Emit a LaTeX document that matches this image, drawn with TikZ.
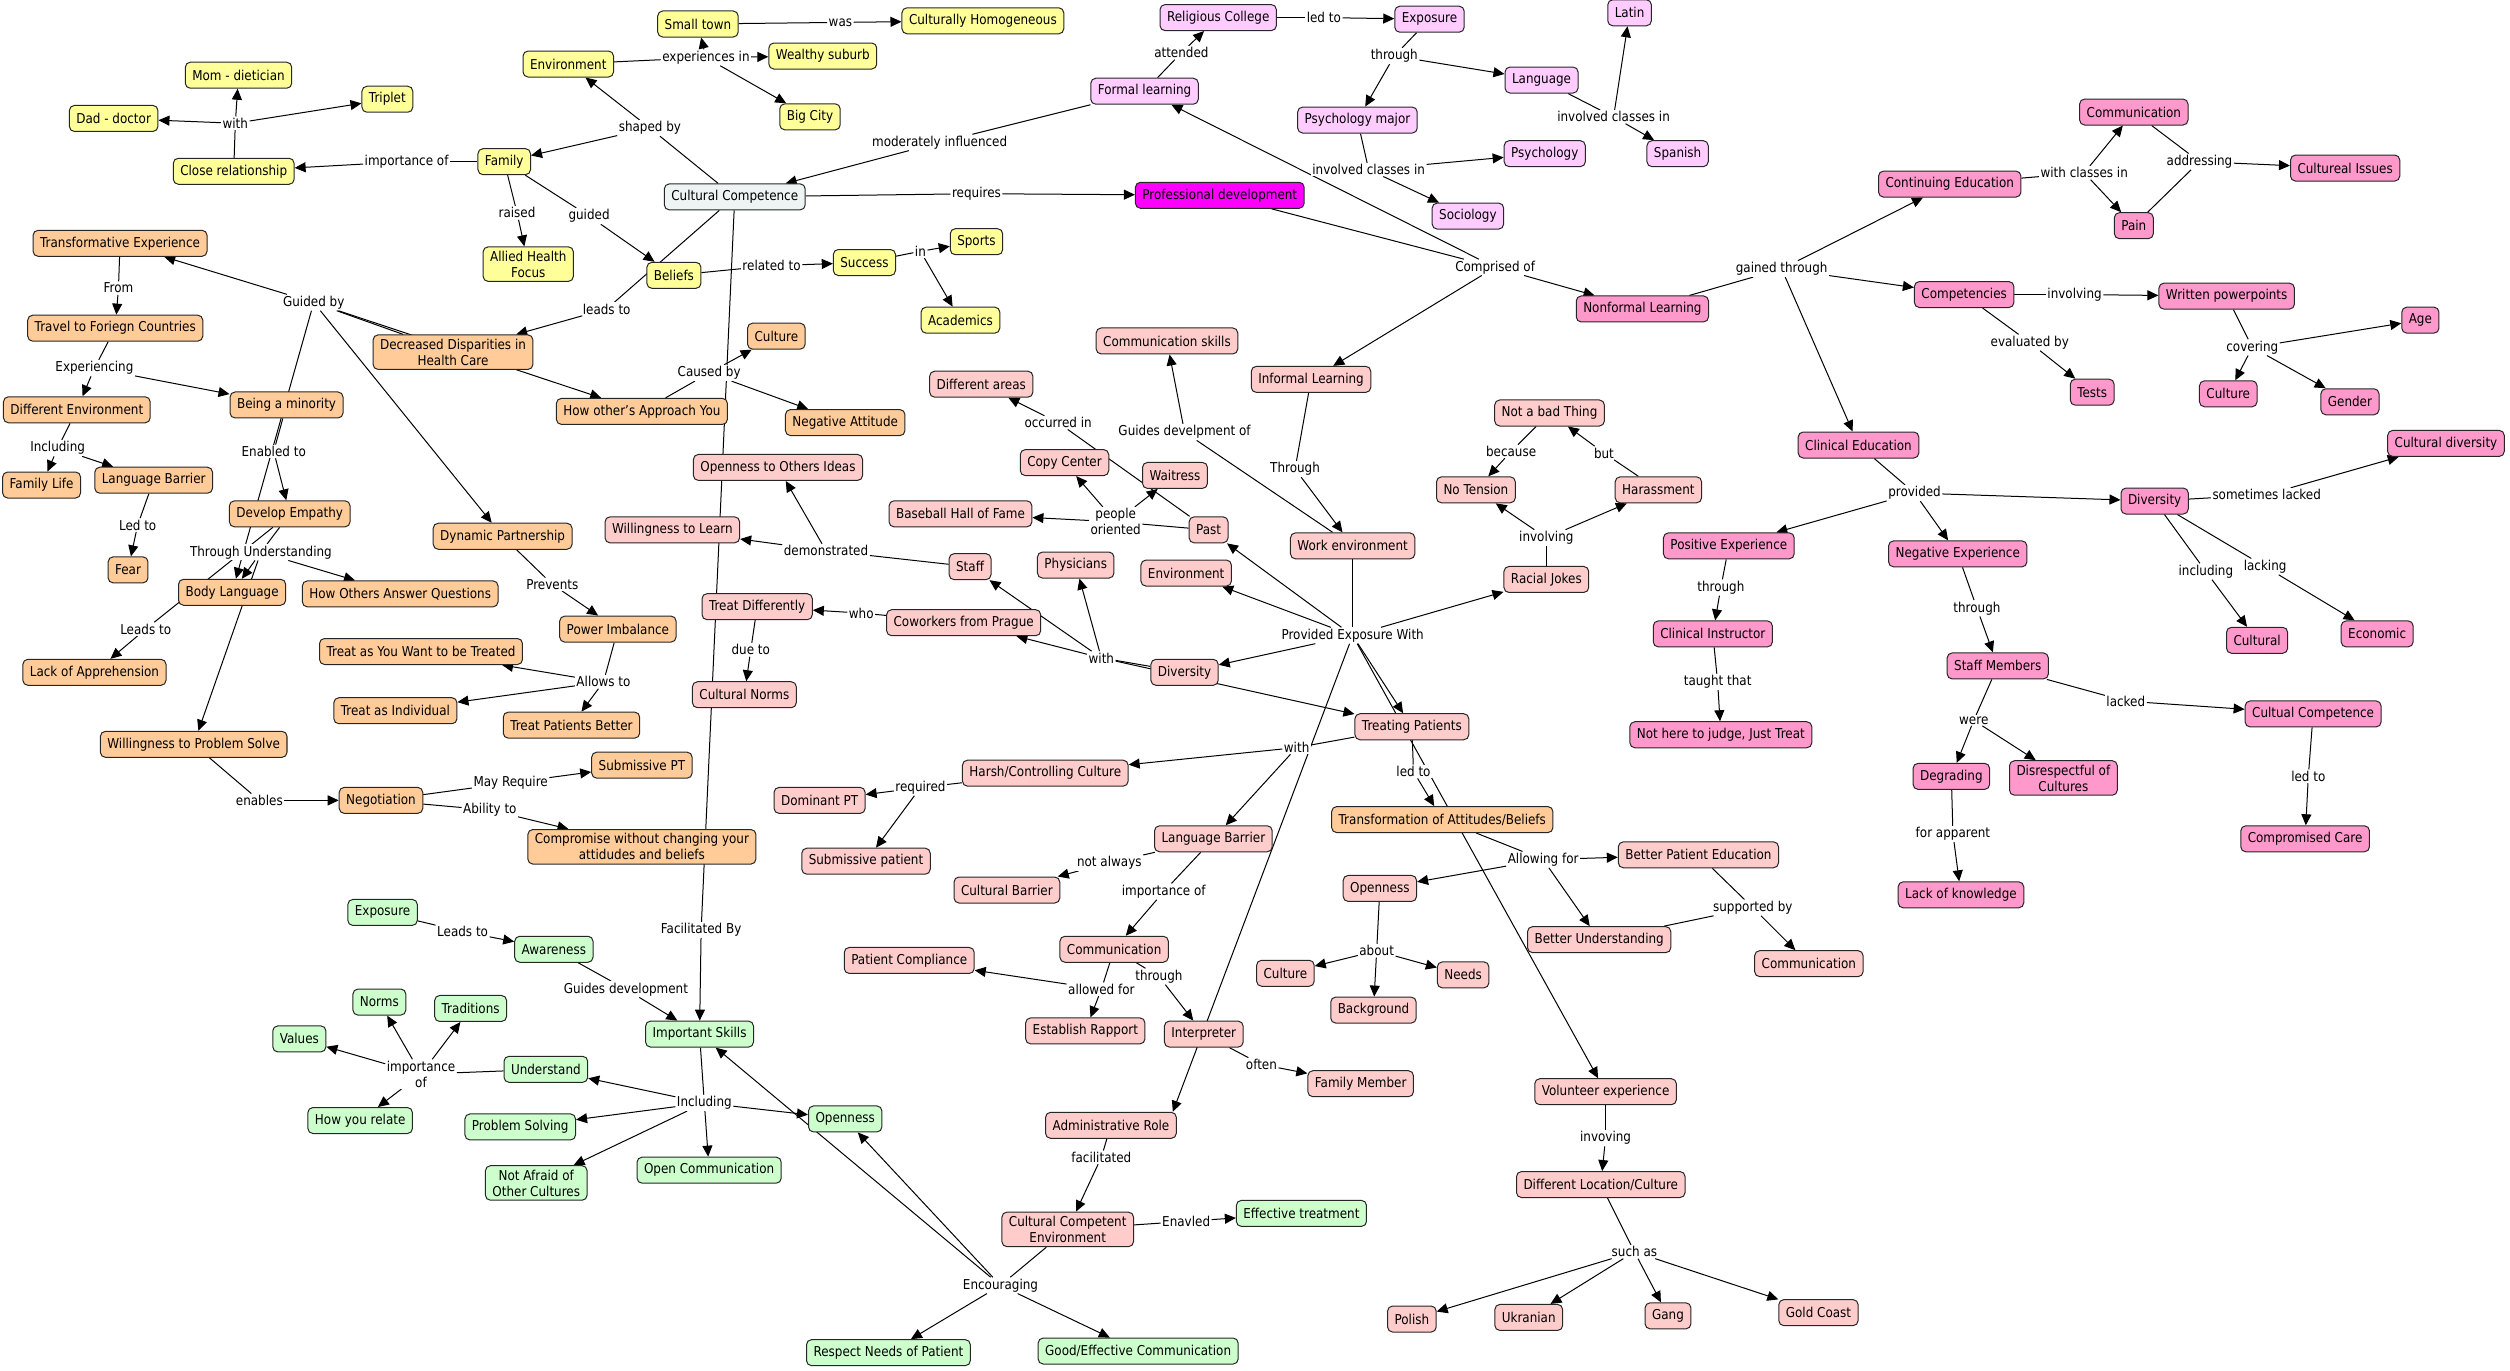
\documentclass[tikz,border=0pt]{standalone}
\usepackage{fontspec}
\setmainfont{DejaVu Sans}[FakeStretch=0.88]
\usetikzlibrary{arrows.meta,backgrounds}
\definecolor{cy}{HTML}{FFFF99}
\definecolor{cor}{HTML}{FFCC99}
\definecolor{cpk}{HTML}{FFCCCC}
\definecolor{clv}{HTML}{FFCCFF}
\definecolor{cmg}{HTML}{FF00FF}
\definecolor{csp}{HTML}{FF99CC}
\definecolor{cgr}{HTML}{CCFFCC}
\definecolor{ccc}{HTML}{EEF4F4}
\newcommand\mapfont{\fontsize{6.8}{8}\selectfont}
\newcommand\cnx[3]{%
  \draw[ln] (#1) -- (#2);
  \foreach \tg in {#3} {\draw[ar] (#2) -- (\tg);}%
}
\tikzset{
  concept/.style={draw=black!85, rounded corners=2.5pt, inner xsep=3.5pt, inner ysep=2pt,
    minimum height=13pt, align=center, font=\mapfont, line width=0.5pt},
  yel/.style={concept, fill=cy},
  ora/.style={concept, fill=cor},
  pnk/.style={concept, fill=cpk},
  lav/.style={concept, fill=clv},
  mag/.style={concept, fill=cmg},
  spk/.style={concept, fill=csp},
  grn/.style={concept, fill=cgr},
  ccs/.style={concept, fill=ccc},
  lbl/.style={fill=white, inner sep=0.6pt, font=\mapfont, align=center},
  ln/.style={line width=0.5pt},
  ar/.style={line width=0.5pt, -{Triangle[length=5.5pt,width=5pt]}}
}
\begin{document}
\begin{tikzpicture}[x=0.8pt,y=-0.8pt]
\useasboundingbox (0,0) rectangle (1568,856);
% ---------- yellow
\node[yel] (smalltown) at (436,15) {Small town};
\node[yel] (culthom) at (614,13) {Culturally Homogeneous};
\node[yel] (envy) at (355,40) {Environment};
\node[yel] (wealthy) at (514,35) {Wealthy suburb};
\node[yel] (bigcity) at (506,73) {Big City};
\node[yel] (mom) at (149,47) {Mom - dietician};
\node[yel] (triplet) at (242,62) {Triplet};
\node[yel] (dad) at (71,74) {Dad - doctor};
\node[yel] (closerel) at (146,107) {Close relationship};
\node[yel] (family) at (315,101) {Family};
\node[yel] (allied) at (330,165) {Allied Health\\Focus};
\node[yel] (beliefs) at (421,172) {Beliefs};
\node[yel] (success) at (540,164) {Success};
\node[yel] (sports) at (610,151) {Sports};
\node[yel] (academics) at (600,200) {Academics};
\node[ccs] (cc) at (459,123) {Cultural Competence};
% ---------- lavender
\node[lav] (relcol) at (761,11) {Religious College};
\node[lav] (explv) at (893,12) {Exposure};
\node[lav] (latin) at (1018,8) {Latin};
\node[lav] (formal) at (715,57) {Formal learning};
\node[lav] (language) at (963,50) {Language};
\node[lav] (psymaj) at (848,75) {Psychology major};
\node[lav] (psych) at (965,96) {Psychology};
\node[lav] (spanish) at (1048,96) {Spanish};
\node[lav] (socio) at (917,135) {Sociology};
\node[mag] (profdev) at (762,122) {Professional development};
% ---------- strong pink
\node[spk] (commtop) at (1333,70) {Communication};
\node[spk] (cultiss) at (1465,105) {Cultureal Issues};
\node[spk] (contedu) at (1218,115) {Continuing Education};
\node[spk] (pain) at (1333,141) {Pain};
\node[spk] (nonformal) at (1026,193) {Nonformal Learning};
\node[spk] (compet) at (1227,184) {Competencies};
\node[spk] (written) at (1391,185) {Written powerpoints};
\node[spk] (age) at (1512,200) {Age};
\node[spk] (tests) at (1307,245) {Tests};
\node[spk] (culsp) at (1392,246) {Culture};
\node[spk] (gender) at (1468,251) {Gender};
\node[spk] (clined) at (1161,278) {Clinical Education};
\node[spk] (culdiv) at (1528,277) {Cultural diversity};
\node[spk] (divsp) at (1346,313) {Diversity};
\node[spk] (posexp) at (1080,341) {Positive Experience};
\node[spk] (negexp) at (1223,346) {Negative Experience};
\node[spk] (clinins) at (1070,396) {Clinical Instructor};
\node[spk] (cultural) at (1410,400) {Cultural};
\node[spk] (economic) at (1485,396) {Economic};
\node[spk] (staffmem) at (1248,416) {Staff Members};
\node[spk] (cultcomp) at (1445,446) {Cultual Competence};
\node[spk] (nothere) at (1075,459) {Not here to judge, Just Treat};
\node[spk] (degrading) at (1219,485) {Degrading};
\node[spk] (disresp) at (1289,486) {Disrespectful of\\Cultures};
\node[spk] (lackknow) at (1225,559) {Lack of knowledge};
\node[spk] (compcare) at (1440,524) {Compromised Care};
% ---------- light pink
\node[pnk] (commskills) at (729,213) {Communication skills};
\node[pnk] (informal) at (819,237) {Informal Learning};
\node[pnk] (diffareas) at (613,240) {Different areas};
\node[pnk] (notbad) at (968,258) {Not a bad Thing};
\node[pnk] (copy) at (665,289) {Copy Center};
\node[pnk] (waitress) at (734,297) {Waitress};
\node[pnk] (openideas) at (486,292) {Openness to Others Ideas};
\node[pnk] (notension) at (922,306) {No Tension};
\node[pnk] (harass) at (1036,306) {Harassment};
\node[pnk] (baseball) at (600,321) {Baseball Hall of Fame};
\node[pnk] (past) at (755,331) {Past};
\node[pnk] (willlearn) at (420,331) {Willingness to Learn};
\node[pnk] (workenv) at (845,341) {Work environment};
\node[pnk] (staff) at (606,354) {Staff};
\node[pnk] (physicians) at (672,353) {Physicians};
\node[pnk] (envpk) at (741,358) {Environment};
\node[pnk] (racial) at (966,362) {Racial Jokes};
\node[pnk] (treatdiff) at (473,379) {Treat Differently};
\node[pnk] (coworkers) at (602,389) {Coworkers from Prague};
\node[pnk] (divpk) at (740,420) {Diversity};
\node[pnk] (cultnorms) at (465,434) {Cultural Norms};
\node[pnk] (treating) at (882,454) {Treating Patients};
\node[pnk] (harsh) at (653,483) {Harsh/Controlling Culture};
\node[pnk] (dominant) at (512,500) {Dominant PT};
\node[pnk] (submpat) at (541,538) {Submissive patient};
\node[pnk] (langbarpk) at (758,524) {Language Barrier};
\node[pnk] (cultbar) at (629,556) {Cultural Barrier};
\node[pnk] (opennesspk) at (862,555) {Openness};
\node[pnk] (betterpe) at (1061,534) {Better Patient Education};
\node[pnk] (commmid) at (696,593) {Communication};
\node[pnk] (patcomp) at (568,600) {Patient Compliance};
\node[pnk] (betterund) at (999,587) {Better Understanding};
\node[pnk] (culpk) at (803,608) {Culture};
\node[pnk] (needs) at (914,609) {Needs};
\node[pnk] (commbr) at (1130,602) {Communication};
\node[pnk] (background) at (858,631) {Background};
\node[pnk] (rapport) at (678,644) {Establish Rapport};
\node[pnk] (interp) at (752,646) {Interpreter};
\node[pnk] (fammember) at (850,677) {Family Member};
\node[pnk] (volunteer) at (1003,682) {Volunteer experience};
\node[pnk] (admin) at (694,703) {Administrative Role};
\node[pnk] (diffloc) at (1000,740) {Different Location/Culture};
\node[pnk] (ccenv) at (667,768) {Cultural Competent\\Environment};
\node[pnk] (polish) at (882,824) {Polish};
\node[pnk] (ukranian) at (955,823) {Ukranian};
\node[pnk] (gang) at (1042,822) {Gang};
\node[pnk] (goldcoast) at (1136,820) {Gold Coast};
% ---------- orange
\node[ora] (transexp) at (75,152) {Transformative Experience};
\node[ora] (travel) at (72,205) {Travel to Foriegn Countries};
\node[ora] (decdisp) at (283,220) {Decreased Disparities in\\Health Care};
\node[ora] (culor) at (485,210) {Culture};
\node[ora] (diffenv) at (48,256) {Different Environment};
\node[ora] (minority) at (179,253) {Being a minority};
\node[ora] (howapp) at (401,257) {How other's Approach You};
\node[ora] (negatt) at (528,264) {Negative Attitude};
\node[ora] (famlife) at (26,303) {Family Life};
\node[ora] (langbaror) at (96,300) {Language Barrier};
\node[ora] (empathy) at (181,321) {Develop Empathy};
\node[ora] (dynamic) at (314,335) {Dynamic Partnership};
\node[ora] (fear) at (80,356) {Fear};
\node[ora] (bodylang) at (145,370) {Body Language};
\node[ora] (howans) at (250,371) {How Others Answer Questions};
\node[ora] (powerimb) at (386,393) {Power Imbalance};
\node[ora] (treatwant) at (263,407) {Treat as You Want to be Treated};
\node[ora] (lackapp) at (59,420) {Lack of Apprehension};
\node[ora] (treatind) at (247,444) {Treat as Individual};
\node[ora] (treatbetter) at (357,453) {Treat Patients Better};
\node[ora] (willprob) at (121,465) {Willingness to Problem Solve};
\node[ora] (submpt) at (401,478) {Submissive PT};
\node[ora] (negotiation) at (238,500) {Negotiation};
\node[ora] (compromise) at (401,529) {Compromise without changing your\\attidudes and beliefs};
\node[ora] (transform) at (901,512) {Transformation of Attitudes/Beliefs};
% ---------- green
\node[grn] (expgr) at (239,570) {Exposure};
\node[grn] (awareness) at (346,593) {Awareness};
\node[grn] (norms) at (237,626) {Norms};
\node[grn] (traditions) at (294,630) {Traditions};
\node[grn] (values) at (187,649) {Values};
\node[grn] (impskills) at (437,646) {Important Skills};
\node[grn] (understand) at (341,668) {Understand};
\node[grn] (opennessgr) at (528,699) {Openness};
\node[grn] (howrelate) at (225,700) {How you relate};
\node[grn] (probsolv) at (325,704) {Problem Solving};
\node[grn] (opencomm) at (443,731) {Open Communication};
\node[grn] (notafraid) at (335,739) {Not Afraid of\\Other Cultures};
\node[grn] (efftreat) at (813,758) {Effective treatment};
\node[grn] (respect) at (555,845) {Respect Needs of Patient};
\node[grn] (goodcomm) at (711,844) {Good/Effective Communication};
% ---------- linking phrases
\node[lbl] (Lwas) at (525,14) {was};
\node[lbl] (Lexpin) at (441,36) {experiences in};
\node[lbl] (Lshaped) at (406,80) {shaped by};
\node[lbl] (Limpof) at (254,101) {importance of};
\node[lbl] (Lwith) at (147,77) {with};
\node[lbl] (Lraised) at (323,133) {raised};
\node[lbl] (Lguided) at (368,135) {guided};
\node[lbl] (Lleadsto) at (379,193) {leads to};
\node[lbl] (Lrelated) at (482,166) {related to};
\node[lbl] (Lin) at (575,157) {in};
\node[lbl] (Lmodinf) at (587,89) {moderately influenced};
\node[lbl] (Lrequires) at (610,121) {requires};
\node[lbl] (Lattended) at (738,33) {attended};
\node[lbl] (Lledtoa) at (827,11) {led to};
\node[lbl] (Lthrougha) at (871,35) {through};
\node[lbl] (Linvcla) at (855,106) {involved classes in};
\node[lbl] (Linvclb) at (1008,73) {involved classes in};
\node[lbl] (Lcomprised) at (934,167) {Comprised of};
\node[lbl] (Lgained) at (1113,168) {gained through};
\node[lbl] (Lwithcl) at (1302,108) {with classes in};
\node[lbl] (Laddressing) at (1374,101) {addressing};
\node[lbl] (Linvolvinga) at (1296,184) {involving};
\node[lbl] (Levaluated) at (1268,214) {evaluated by};
\node[lbl] (Lcovering) at (1407,217) {covering};
\node[lbl] (Lprovided) at (1196,308) {provided};
\node[lbl] (Lsomelack) at (1416,309) {sometimes lacked};
\node[lbl] (Lincludinga) at (1378,357) {including};
\node[lbl] (Llacking) at (1415,354) {lacking};
\node[lbl] (Lthroughb) at (1075,367) {through};
\node[lbl] (Ltaught) at (1073,426) {taught that};
\node[lbl] (Lthroughc) at (1235,380) {through};
\node[lbl] (Lwere) at (1233,450) {were};
\node[lbl] (Llacked) at (1328,438) {lacked};
\node[lbl] (Lforapp) at (1220,521) {for apparent};
\node[lbl] (Lledtob) at (1442,485) {led to};
\node[lbl] (Lguidesdev) at (740,270) {Guides develpment of};
\node[lbl] (Lthroughd) at (809,293) {Through};
\node[lbl] (Lbecause) at (944,282) {because};
\node[lbl] (Lbut) at (1002,283) {but};
\node[lbl] (Linvolvingb) at (966,336) {involving};
\node[lbl] (Loccurred) at (661,264) {occurred in};
\node[lbl] (Lpeople) at (697,326) {people\\oriented};
\node[lbl] (Ldemonstrated) at (516,344) {demonstrated};
\node[lbl] (Lwho) at (538,383) {who};
\node[lbl] (Lwithb) at (688,411) {with};
\node[lbl] (Lprovexp) at (845,397) {Provided Exposure With};
\node[lbl] (Ldueto) at (469,406) {due to};
\node[lbl] (Lwithc) at (810,467) {with};
\node[lbl] (Lledtoc) at (883,482) {led to};
\node[lbl] (Lrequired) at (575,492) {required};
\node[lbl] (Lnotalways) at (693,539) {not always};
\node[lbl] (Limpofb) at (727,557) {importance of};
\node[lbl] (Lallowing) at (964,537) {Allowing for};
\node[lbl] (Lsupported) at (1095,567) {supported by};
\node[lbl] (Labout) at (860,594) {about};
\node[lbl] (Lallowedfor) at (688,618) {allowed for};
\node[lbl] (Lthroughe) at (724,610) {through};
\node[lbl] (Loften) at (788,665) {often};
\node[lbl] (Lfacilitated) at (688,723) {facilitated};
\node[lbl] (Lenavled) at (741,763) {Enavled};
\node[lbl] (Lencouraging) at (625,803) {Encouraging};
\node[lbl] (Linvoving) at (1003,711) {invoving};
\node[lbl] (Lsuchas) at (1021,782) {such as};
\node[lbl] (Lfacby) at (438,581) {Facilitated By};
\node[lbl] (Lleadstob) at (289,582) {Leads to};
\node[lbl] (Lguidesdevb) at (391,618) {Guides development};
\node[lbl] (Lincludingb) at (440,689) {Including};
\node[lbl] (Limpofc) at (263,671) {importance\\of};
\node[lbl] (Lcausedby) at (443,233) {Caused by};
\node[lbl] (Lguidedby) at (196,189) {Guided by};
\node[lbl] (Lfrom) at (74,180) {From};
\node[lbl] (Lexperiencing) at (59,230) {Experiencing};
\node[lbl] (Lincludingc) at (36,280) {Including};
\node[lbl] (Lenabled) at (171,282) {Enabled to};
\node[lbl] (Lledtod) at (86,328) {Led to};
\node[lbl] (Lthroughund) at (163,345) {Through Understanding};
\node[lbl] (Lleadstoc) at (91,393) {Leads to};
\node[lbl] (Lprevents) at (345,365) {Prevents};
\node[lbl] (Lallows) at (377,426) {Allows to};
\node[lbl] (Lenables) at (162,500) {enables};
\node[lbl] (Lmayreq) at (319,489) {May Require};
\node[lbl] (Lability) at (306,506) {Ability to};
% ---------- connectors
\begin{pgfonlayer}{background}
\cnx{smalltown}{Lwas}{culthom}
\cnx{envy}{Lexpin}{smalltown,wealthy,bigcity}
\cnx{cc}{Lshaped}{envy,family}
\cnx{family}{Limpof}{closerel}
\cnx{closerel}{Lwith}{mom,dad,triplet}
\cnx{family}{Lraised}{allied}
\cnx{family}{Lguided}{beliefs}
\cnx{cc}{Lleadsto}{decdisp}
\cnx{beliefs}{Lrelated}{success}
\cnx{success}{Lin}{sports,academics}
\cnx{formal}{Lmodinf}{cc}
\cnx{cc}{Lrequires}{profdev}
\cnx{formal}{Lattended}{relcol}
\cnx{relcol}{Lledtoa}{explv}
\cnx{explv}{Lthrougha}{language,psymaj}
\cnx{psymaj}{Linvcla}{psych,socio}
\cnx{language}{Linvclb}{latin,spanish}
\cnx{profdev}{Lcomprised}{formal,informal,nonformal}
\cnx{nonformal}{Lgained}{contedu,compet,clined}
\cnx{contedu}{Lwithcl}{commtop,pain}
\draw[ln] (pain) -- (Laddressing);
\cnx{commtop}{Laddressing}{cultiss}
\cnx{compet}{Linvolvinga}{written}
\cnx{compet}{Levaluated}{tests}
\cnx{written}{Lcovering}{age,culsp,gender}
\cnx{clined}{Lprovided}{posexp,negexp,divsp}
\cnx{divsp}{Lsomelack}{culdiv}
\cnx{divsp}{Lincludinga}{cultural}
\cnx{divsp}{Llacking}{economic}
\cnx{posexp}{Lthroughb}{clinins}
\cnx{clinins}{Ltaught}{nothere}
\cnx{negexp}{Lthroughc}{staffmem}
\cnx{staffmem}{Lwere}{degrading,disresp}
\cnx{staffmem}{Llacked}{cultcomp}
\cnx{degrading}{Lforapp}{lackknow}
\cnx{cultcomp}{Lledtob}{compcare}
\cnx{workenv}{Lguidesdev}{commskills}
\cnx{informal}{Lthroughd}{workenv}
\cnx{notbad}{Lbecause}{notension}
\cnx{harass}{Lbut}{notbad}
\cnx{racial}{Linvolvingb}{notension,harass}
\cnx{past}{Loccurred}{diffareas}
\cnx{past}{Lpeople}{copy,waitress,baseball}
\cnx{staff}{Ldemonstrated}{willlearn,openideas}
\cnx{coworkers}{Lwho}{treatdiff}
\cnx{divpk}{Lwithb}{staff,physicians,coworkers,treating}
\cnx{workenv}{Lprovexp}{racial,past,envpk,divpk,treating,volunteer}
\draw[ar] (Lprovexp) -- ([xshift=-2pt]admin.north east);
\cnx{treatdiff}{Ldueto}{cultnorms}
\cnx{treating}{Lwithc}{harsh,langbarpk}
\cnx{treating}{Lledtoc}{transform}
\cnx{harsh}{Lrequired}{dominant,submpat}
\cnx{langbarpk}{Lnotalways}{cultbar}
\cnx{langbarpk}{Limpofb}{commmid}
\cnx{transform}{Lallowing}{betterpe,opennesspk,betterund}
\draw[ln] (betterund) -- (Lsupported);
\cnx{betterpe}{Lsupported}{commbr}
\cnx{opennesspk}{Labout}{culpk,needs,background}
\cnx{commmid}{Lallowedfor}{patcomp,rapport}
\cnx{commmid}{Lthroughe}{interp}
\cnx{interp}{Loften}{fammember}
\cnx{admin}{Lfacilitated}{ccenv}
\cnx{ccenv}{Lenavled}{efftreat}
\cnx{ccenv}{Lencouraging}{respect,goodcomm,opennessgr,impskills}
\cnx{volunteer}{Linvoving}{diffloc}
\cnx{diffloc}{Lsuchas}{polish,ukranian,gang,goldcoast}
\cnx{cc}{Lfacby}{impskills}
\cnx{expgr}{Lleadstob}{awareness}
\cnx{awareness}{Lguidesdevb}{impskills}
\cnx{impskills}{Lincludingb}{understand,probsolv,notafraid,opencomm,opennessgr}
\cnx{understand}{Limpofc}{values,norms,traditions,howrelate}
\cnx{howapp}{Lcausedby}{culor,negatt}
\cnx{decdisp}{Lguidedby}{transexp,bodylang,dynamic,howapp}
\cnx{transexp}{Lfrom}{travel}
\cnx{travel}{Lexperiencing}{diffenv,minority}
\cnx{diffenv}{Lincludingc}{famlife,langbaror}
\cnx{minority}{Lenabled}{empathy}
\cnx{langbaror}{Lledtod}{fear}
\cnx{empathy}{Lthroughund}{bodylang,howans,willprob}
\cnx{empathy}{Lleadstoc}{lackapp}
\cnx{dynamic}{Lprevents}{powerimb}
\cnx{powerimb}{Lallows}{treatwant,treatind,treatbetter}
\cnx{willprob}{Lenables}{negotiation}
\cnx{negotiation}{Lmayreq}{submpt}
\cnx{negotiation}{Lability}{compromise}
\end{pgfonlayer}
\end{tikzpicture}
\end{document}
